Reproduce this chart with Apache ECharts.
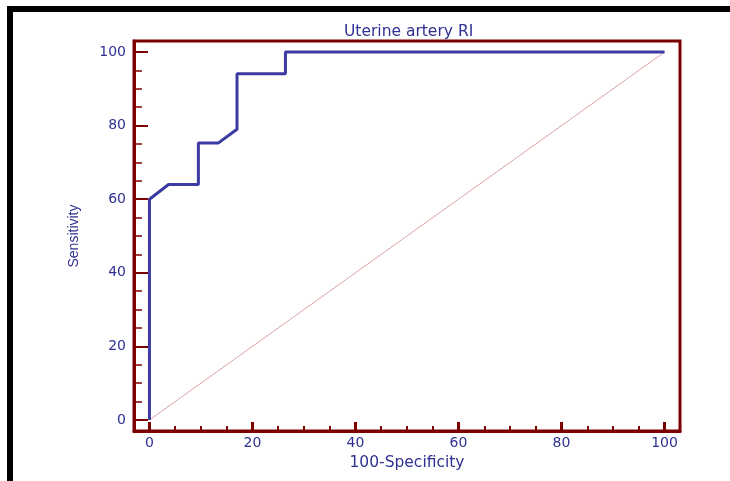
<!DOCTYPE html>
<html>
<head>
<meta charset="utf-8">
<script src="https://cdn.jsdelivr.net/npm/echarts@6/dist/echarts.min.js"></script>
<style>
  html, body { margin: 0; padding: 0; background: #fff; }
  #chart { width: 730px; height: 481px; }
</style>
</head>
<body>
<div id="chart"></div>
<script>
// ROC curve points (100-Specificity, Sensitivity)
const rocX = [0, 0, 3.7, 9.5, 9.5, 13.4, 17.0, 17.0, 26.4, 26.4, 100];
const rocY = [0, 60, 64, 64, 75.3, 75.3, 79, 94.1, 94.1, 100, 100];
const refX = [0, 100];
const refY = [0, 100];
const majorTicks = [0, 20, 40, 60, 80, 100];
const minorTicks = [5, 10, 15, 25, 30, 35, 45, 50, 55, 65, 70, 75, 85, 90, 95];

const axisRed = "#7d0000";
const textBlue = "#2e3192";
const font = "'DejaVu Sans', Arial, sans-serif";

const chart = echarts.init(document.getElementById("chart"));

const baseAxis = {
  type: "value",
  min: -3,
  max: 103,
  splitLine: { show: false },
};

chart.setOption({
  animation: false,
  title: {
    text: "Uterine artery RI",
    left: 339,
    top: 19,
    textStyle: { color: textBlue, fontSize: 15.5, fontWeight: "normal", fontFamily: font },
  },
  grid: {
    left: 134,
    right: 50,
    top: 41,
    bottom: 50,
    show: true,
    borderColor: axisRed,
    borderWidth: 3,
  },
  graphic: [
    { type: "rect", shape: { x: 7, y: 6, width: 723, height: 6 }, style: { fill: "#000" } },
    { type: "rect", shape: { x: 7, y: 6, width: 6, height: 475 }, style: { fill: "#000" } },
  ],
  xAxis: [
    {
      ...baseAxis,
      position: "bottom",
      name: "100-Specificity",
      nameLocation: "middle",
      nameGap: 23,
      nameTextStyle: { color: textBlue, fontSize: 15.5, fontFamily: font },
      axisLine: { onZero: false, lineStyle: { color: axisRed, width: 3 } },
      axisTick: { inside: true, length: 9, customValues: majorTicks, lineStyle: { color: axisRed, width: 3 } },
      axisLabel: { customValues: majorTicks, margin: 5, color: textBlue, fontSize: 14, fontFamily: font },
    },
    {
      ...baseAxis,
      position: "bottom",
      axisLine: { show: false, onZero: false },
      axisTick: { inside: true, length: 5, customValues: minorTicks, lineStyle: { color: axisRed, width: 2 } },
      axisLabel: { show: false },
    },
  ],
  yAxis: [
    {
      ...baseAxis,
      position: "left",
      name: "Sensitivity",
      nameLocation: "middle",
      nameGap: 53,
      nameRotate: 90,
      nameTextStyle: { color: textBlue, fontSize: 14, fontFamily: "'Liberation Sans Narrow', 'Liberation Sans', Arial, sans-serif" },
      axisLine: { onZero: false, lineStyle: { color: axisRed, width: 3 } },
      axisTick: { inside: true, length: 14, customValues: majorTicks, lineStyle: { color: axisRed, width: 2 } },
      axisLabel: { customValues: majorTicks, margin: 8, color: textBlue, fontSize: 14, fontFamily: font },
    },
    {
      ...baseAxis,
      position: "left",
      axisLine: { show: false, onZero: false },
      axisTick: { inside: true, length: 8, customValues: minorTicks, lineStyle: { color: axisRed, width: 1.5 } },
      axisLabel: { show: false },
    },
  ],
  series: [
    {
      type: "line",
      data: refX.map((x, i) => [x, refY[i]]),
      symbol: "none",
      lineStyle: { color: "#dba3a3", width: 1 },
      silent: true,
      z: 1,
    },
    {
      type: "line",
      data: rocX.map((x, i) => [x, rocY[i]]),
      symbol: "none",
      lineStyle: { color: "#3b3ba3", width: 3 },
      z: 3,
    },
  ],
});
</script>
</body>
</html>
